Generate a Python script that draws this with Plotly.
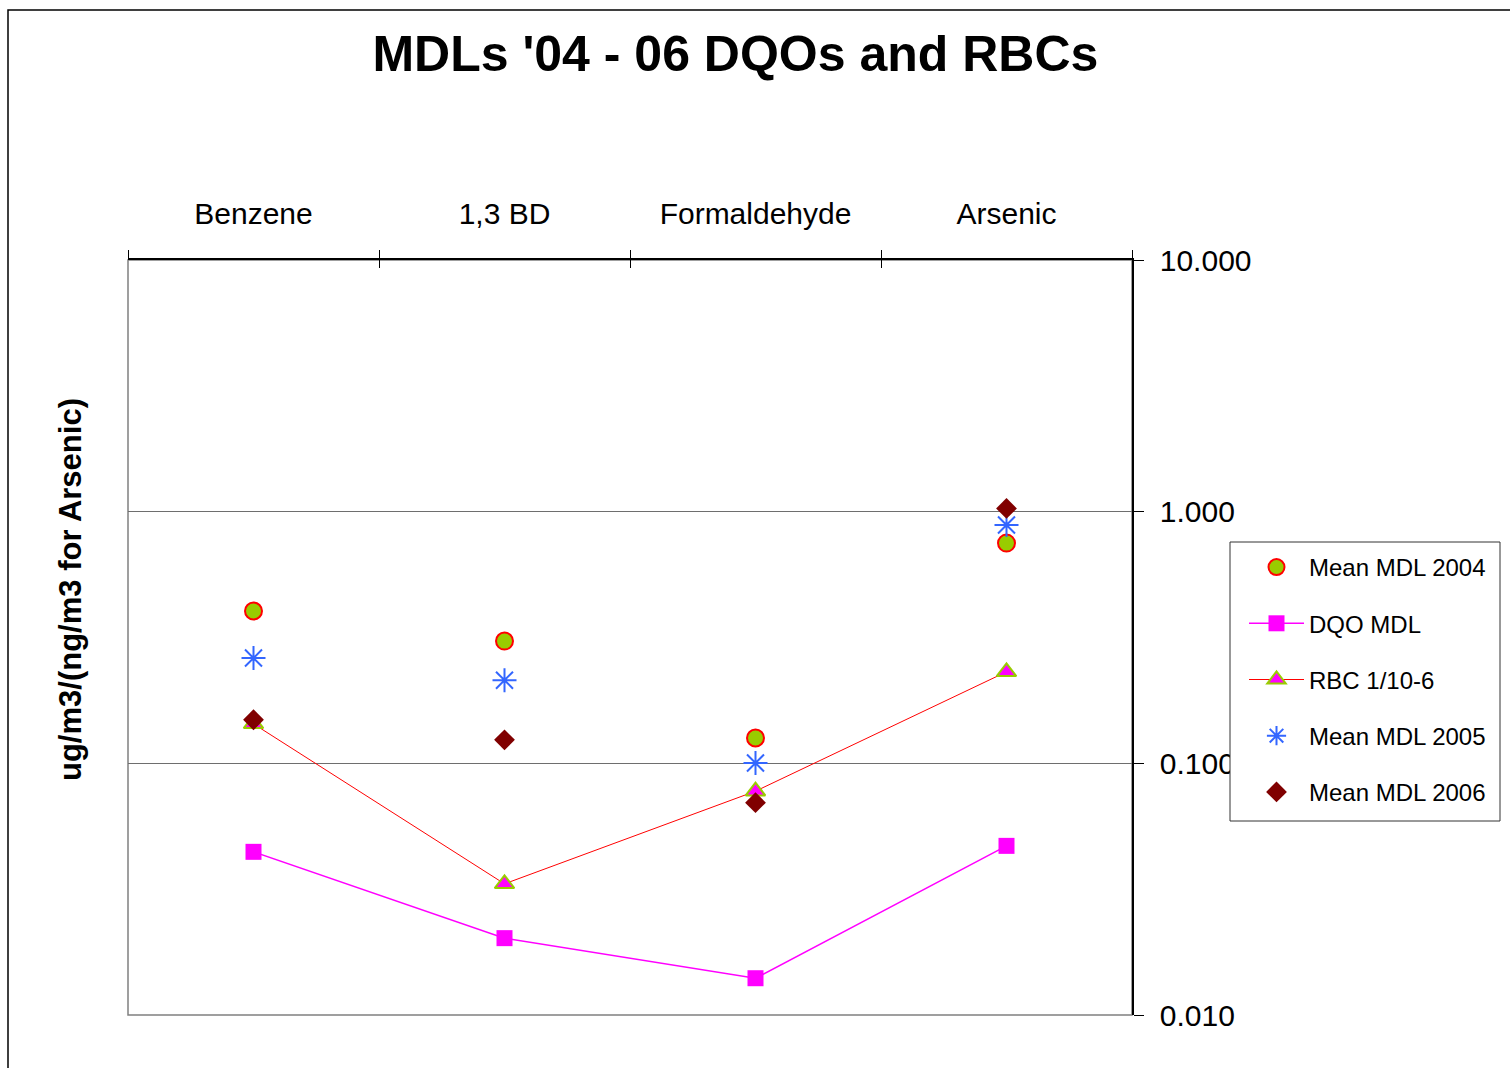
import plotly.graph_objects as go

categories = ["Benzene", "1,3 BD", "Formaldehyde", "Arsenic"]
mdl_2004 = [0.403, 0.306, 0.126, 0.75]
dqo_mdl = [0.0445, 0.0202, 0.0140, 0.047]
rbc = [0.1435, 0.0332, 0.0775, 0.231]
mdl_2005 = [0.262, 0.214, 0.1003, 0.885]
mdl_2006 = [0.149, 0.124, 0.0698, 1.03]

y_tickvals = [0.01, 0.1, 1, 10]
y_ticktext = ["0.010", "0.100", "1.000", "10.000"]

FONT = "Liberation Sans, Arial, sans-serif"

fig = go.Figure()

fig.add_trace(go.Scatter(
    x=categories, y=mdl_2004, name="Mean MDL 2004", mode="markers",
    legendgroup="a",
    marker=dict(symbol="circle", size=17, color="#99CC00",
                line=dict(color="#FF0000", width=2))))
fig.add_trace(go.Scatter(
    x=categories, y=dqo_mdl, name="DQO MDL", mode="lines+markers",
    legendgroup="b",
    line=dict(color="#FF00FF", width=1.5),
    marker=dict(symbol="square", size=16, color="#FF00FF",
                line=dict(color="#FF00FF", width=0))))
fig.add_trace(go.Scatter(
    x=categories, y=rbc, name="RBC 1/10-6", mode="lines+markers",
    legendgroup="c",
    line=dict(color="#FF0000", width=1),
    marker=dict(symbol="triangle-up", size=17, color="#FF00FF",
                line=dict(color="#99CC00", width=2))))
fig.add_trace(go.Scatter(
    x=categories, y=mdl_2005, name="Mean MDL 2005", mode="markers",
    legendgroup="d",
    marker=dict(symbol="asterisk-open", size=20, color="#3366FF",
                line=dict(color="#3366FF", width=2))))
fig.add_trace(go.Scatter(
    x=categories, y=mdl_2006, name="Mean MDL 2006", mode="markers",
    legendgroup="e",
    marker=dict(symbol="diamond", size=16, color="#800000",
                line=dict(color="#800000", width=0))))

# invisible helper trace for the inner half of the crossing category ticks
fig.add_trace(go.Scatter(x=categories, y=mdl_2004, xaxis="x2", mode="markers",
                         marker=dict(opacity=0), showlegend=False, hoverinfo="skip"))

fig.update_layout(
    width=1510, height=1068,
    margin=dict(l=128, r=378, t=260, b=53),
    paper_bgcolor="white", plot_bgcolor="white",
    font=dict(family=FONT, color="black", size=24),
    showlegend=True,
    title=dict(text="<b>MDLs '04 - 06 DQOs and RBCs</b>",
               font=dict(family=FONT, size=50, color="black"),
               xref="container", x=0.487, xanchor="center",
               yref="container", y=1 - 53 / 1068, yanchor="middle"),
    xaxis=dict(type="category", side="top", categoryorder="array",
               categoryarray=categories, range=[-0.5, 3.5],
               tickson="boundaries", ticks="outside", ticklen=8,
               tickcolor="black", tickwidth=1, ticklabelstandoff=22,
               showline=True, linecolor="black", linewidth=1.5,
               showgrid=False, zeroline=False,
               tickfont=dict(family=FONT, size=30, color="black")),
    xaxis2=dict(type="category", overlaying="x", side="top", anchor="y",
                categoryorder="array", categoryarray=categories, range=[-0.5, 3.5],
                tickson="boundaries", ticks="inside", ticklen=8,
                tickcolor="black", tickwidth=1, showticklabels=False,
                showline=False, showgrid=False, zeroline=False),
    yaxis=dict(type="log", range=[-2, 1], side="right",
               tickmode="array", tickvals=y_tickvals, ticktext=y_ticktext,
               ticks="outside", ticklen=10, tickcolor="black", tickwidth=1,
               ticklabelstandoff=10,
               showline=True, linecolor="black", linewidth=1.5,
               showgrid=True, gridcolor="#6e6e6e", gridwidth=1.2,
               zeroline=False,
               tickfont=dict(family=FONT, size=30, color="black")),
    legend=dict(x=(1244 - 128) / 1004, xanchor="left",
                y=(1015 - 545) / 755, yanchor="top",
                bgcolor="rgba(0,0,0,0)", borderwidth=0,
                font=dict(family=FONT, size=24, color="black"),
                tracegroupgap=22, itemwidth=55, itemsizing="trace"),
    shapes=[
        # plot area frame (grey left/bottom)
        dict(type="rect", xref="paper", yref="paper", x0=0, x1=1, y0=0, y1=1,
             line=dict(color="#808080", width=1.5), layer="below"),
        # outer chart frame
        dict(type="rect", xref="paper", yref="paper",
             x0=(8 - 128) / 1004, x1=1.5, y0=-0.2, y1=(1015 - 10) / 755,
             line=dict(color="black", width=1.5), layer="below"),
        # legend box
        dict(type="rect", xref="paper", yref="paper",
             x0=(1230 - 128) / 1004, x1=(1500 - 128) / 1004,
             y0=(1015 - 821) / 755, y1=(1015 - 542) / 755,
             fillcolor="white", line=dict(color="#333333", width=1), layer="above"),
    ],
    annotations=[
        dict(text="<b>ug/m3/(ng/m3 for Arsenic)</b>", textangle=-90,
             xref="paper", yref="paper",
             x=(70 - 128) / 1004, y=(1015 - 590) / 755,
             xanchor="center", yanchor="middle", showarrow=False,
             font=dict(family=FONT, size=31, color="black")),
    ],
)

fig.write_html("out.html")
